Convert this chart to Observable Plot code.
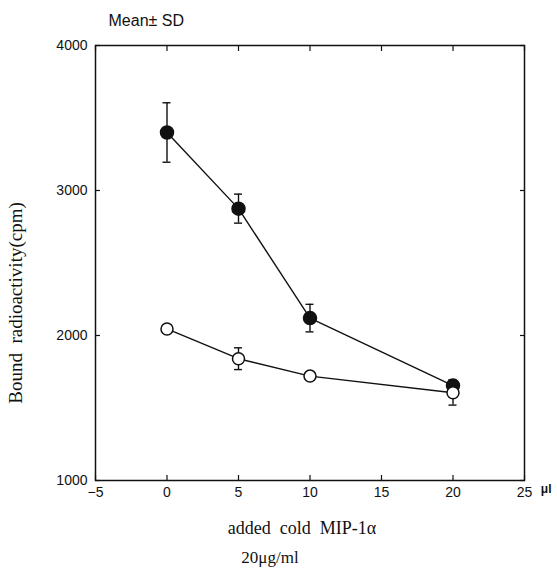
<!DOCTYPE html>
<html><head><meta charset="utf-8">
<script src="https://cdn.jsdelivr.net/npm/d3@7"></script>
<script src="https://cdn.jsdelivr.net/npm/@observablehq/plot@0.6"></script>
<style>body{margin:0;background:#fff}</style>
</head><body><div id="chart"></div>
<script>
const doses = [0, 5, 10, 20];
const filledMean = [3400, 2875, 2120, 1655];
const filledSD = [205, 100, 95, 40];
const openMean = [2045, 1840, 1720, 1605];
const openSD = [20, 75, 20, 85];
const xTicks = [-5, 0, 5, 10, 15, 20, 25];
const yTicks = [1000, 2000, 3000, 4000];

const filled = doses.map((d, i) => ({x: d, y: filledMean[i], lo: filledMean[i] - filledSD[i], hi: filledMean[i] + filledSD[i]}));
const open = doses.map((d, i) => ({x: d, y: openMean[i], lo: openMean[i] - openSD[i], hi: openMean[i] + openSD[i]}));

const sans = "Liberation Sans, Arial, sans-serif";
const serif = "Liberation Serif, Times New Roman, serif";
const ink = "#111";
const capOpts = (y) => ({x1: "x", x2: "x", y, insetLeft: -4, insetRight: -4, stroke: ink, strokeWidth: 1.4});

const chart = Plot.plot({
  width: 557, height: 569,
  marginLeft: 95, marginRight: 33, marginTop: 45, marginBottom: 89,
  style: {fontFamily: sans, fontSize: "14px", color: ink, background: "#fff"},
  x: {type: "linear", domain: [-5, 25], label: null},
  y: {type: "linear", domain: [1000, 4000], label: null},
  marks: [
    Plot.frame({stroke: ink, strokeWidth: 1.5}),
    Plot.axisX({ticks: xTicks, anchor: "bottom", tickSize: -5, tickPadding: 12, fontSize: 14, strokeWidth: 1.2, tickFormat: d => d < 0 ? "\u2212" + Math.abs(d) : String(d)}),
    Plot.axisX({ticks: xTicks, anchor: "top", tickSize: -5, strokeWidth: 1.2, tickFormat: () => ""}),
    Plot.axisY({ticks: yTicks, anchor: "left", tickSize: -5, tickPadding: 13, fontSize: 14, strokeWidth: 1.2, tickFormat: d => String(d)}),
    Plot.axisY({ticks: yTicks, anchor: "right", tickSize: -5, strokeWidth: 1.2, tickFormat: () => ""}),
    Plot.ruleX(filled, {x: "x", y1: "lo", y2: "hi", stroke: ink, strokeWidth: 1.4}),
    Plot.ruleY(filled, capOpts("lo")),
    Plot.ruleY(filled, capOpts("hi")),
    Plot.ruleX(open, {x: "x", y1: "lo", y2: "hi", stroke: ink, strokeWidth: 1.4}),
    Plot.ruleY(open, capOpts("lo")),
    Plot.ruleY(open, capOpts("hi")),
    Plot.line(filled, {x: "x", y: "y", stroke: ink, strokeWidth: 1.4}),
    Plot.line(open, {x: "x", y: "y", stroke: ink, strokeWidth: 1.4}),
    Plot.dot(filled, {x: "x", y: "y", r: 6.5, fill: ink, stroke: ink}),
    Plot.dot(open, {x: "x", y: "y", r: 6, fill: "#fff", stroke: ink, strokeWidth: 1.5}),
    Plot.text(["Mean\u00b1 SD"], {text: d => d, frameAnchor: "top-left", dx: 13, dy: -31, fontSize: 16, fontFamily: sans, textAnchor: "start"}),
    Plot.text(["Bound\u2002radioactivity(cpm)"], {text: d => d, frameAnchor: "left", textAnchor: "middle", dx: -80, dy: 40, rotate: -90, fontSize: 19, fontFamily: serif}),
    Plot.text(["added\u2002cold\u2002MIP-1\u03b1"], {text: d => d, frameAnchor: "bottom", dx: -8, dy: 53, fontSize: 18, fontFamily: serif}),
    Plot.text(["20\u03bcg/ml"], {text: d => d, frameAnchor: "bottom", dx: -40, dy: 82, fontSize: 17, fontFamily: serif}),
    Plot.text(["\u03bcl"], {text: d => d, frameAnchor: "bottom-right", dx: 27, dy: 12, fontSize: 12, fontWeight: "bold", fontFamily: sans})
  ]
});
document.getElementById("chart").appendChild(chart);
</script></body></html>
